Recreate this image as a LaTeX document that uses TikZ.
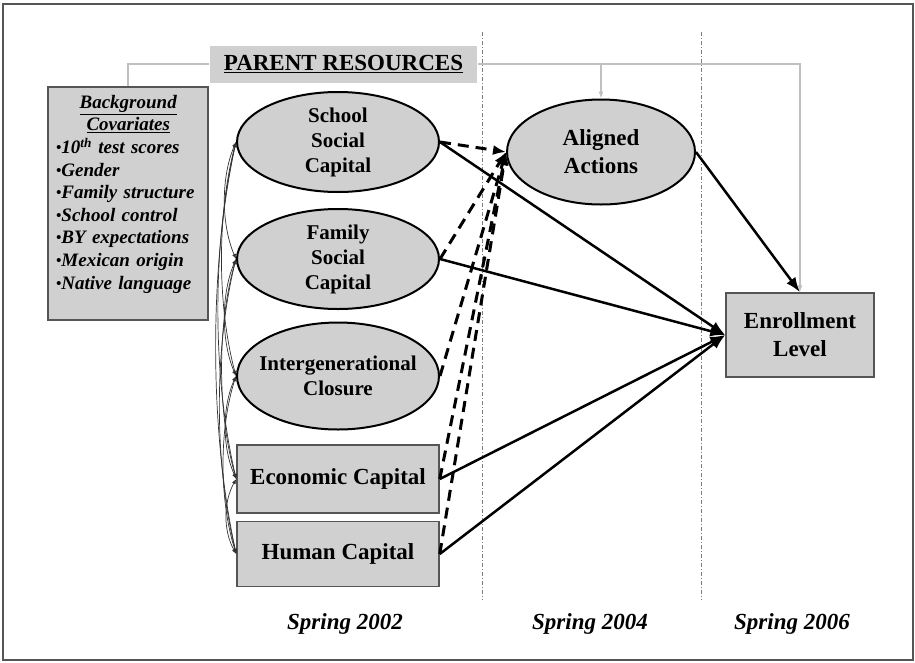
\documentclass[tikz,border=0pt]{standalone}
\usepackage{fontspec}
\setmainfont{Liberation Serif}
\usetikzlibrary{arrows.meta,shapes.geometric,positioning}
\definecolor{boxgray}{RGB}{208,208,208}
\definecolor{linegray}{RGB}{192,192,192}
\definecolor{framegray}{RGB}{85,85,85}
\definecolor{sepgray}{RGB}{125,125,125}
\newcommand\ovfont{\fontsize{21}{25}\selectfont\bfseries}
\newcommand\bxfont{\fontsize{23}{28}\selectfont\bfseries}
\newcommand\cvfont{\fontsize{19}{22.6}\selectfont\bfseries\itshape}
\newcommand\spfont{\fontsize{23}{27}\selectfont\bfseries\itshape}
\newcommand\cvbul{{\fontsize{15}{15}\selectfont\raisebox{1pt}{•}}}
\tikzset{
  pathto/.style={-{Latex[length=15pt,width=11pt]},line width=2.5pt},
  hypoth/.style={-{Latex[length=13pt,width=10pt]},line width=3pt,dash pattern=on 11pt off 7pt},
  covar/.style={{Latex[length=5pt,width=4pt]}-{Latex[length=5pt,width=4pt]},line width=.7pt,draw=black!80},
  parentline/.style={line width=1.2pt,draw=linegray},
  parenttip/.style={-{Latex[length=7pt,width=5pt]}},
  timesep/.style={line width=1pt,draw=sepgray,dash pattern=on 4pt off 2pt on 1pt off 2pt}
}

\begin{document}
\begin{tikzpicture}[x=1pt,y=-1pt]%
        \useasboundingbox (0,0) rectangle (915,662);
        \draw[framegray,line width=1.5pt] (3,4) rectangle (913,660); %%
        \draw[timesep] (482,32) -- (482,600); %%
        \draw[timesep] (701,32) -- (701,600); %%
        \begin{scope}[shape=ellipse,inner xsep=-10pt,inner ysep=0pt,minimum width=202,minimum height=100]
        \tikzstyle{every node}=[draw,line width=2pt,fill=boxgray,align=center,font=\ovfont] %%
        \node (ssc) at (338,142)  {School\\Social\\Capital}; %%
        \node (fsc) at (338,259)  {Family\\Social\\Capital}; %%
        \node[minimum height=107] (ic) at (338,376)  {Intergenerational\\Closure}; %%
        \node[minimum width=188,minimum height=105,font=\bxfont] (aa) at (601,152)  {Aligned\\Actions}; %%
        \end{scope}
        \begin{scope}[shape=rectangle,inner sep=0pt,minimum width=202,minimum height=68]
        \tikzstyle{every node}=[draw=framegray,line width=1.5pt,fill=boxgray,align=center,font=\bxfont] %%
        \node (ec) at (338,479)  {Economic Capital}; %%
        \node[minimum height=65] (hc) at (338,554)  {Human Capital}; %%
        \node[minimum width=148,minimum height=84] (el) at (800,335)  {Enrollment\\Level}; %%
        \node[minimum width=160,minimum height=233] (bgc) at (128,203.5)  {}; %%
        \node[draw=none,fill=boxgray,minimum width=267,minimum height=37] (pr) at (343.5,64)  {\underline{PARENT RESOURCES}}; %%
        \end{scope}
        \node[anchor=north west,inner sep=0pt,text width=150pt,align=left,font=\cvfont] (cvtext) at (56,95)
          {\makebox[144pt]{\underline{Background}}\\
           \makebox[144pt]{\underline{Covariates}}\\
           \cvbul10\textsuperscript{th} test scores\\
           \cvbul Gender\\
           \cvbul Family structure\\
           \cvbul School control\\
           \cvbul BY expectations\\
           \cvbul Mexican origin\\
           \cvbul Native language}; %%
        \node[font=\spfont] (sp02) at (345,624)  {Spring 2002}; %%
        \node[font=\spfont] (sp04) at (590,624)  {Spring 2004}; %%
        \node[font=\spfont] (sp06) at (792,624)  {Spring 2006}; %%
        % parent resources bracket
        \coordinate (prcorner) at (pr.east -| el.north);
        \draw[parentline] (bgc.north) |- (pr.west); %%
        \draw[parentline,parenttip] (pr.east) -- (prcorner) -- (el.north); %%
        \draw[parentline,parenttip] (aa.north |- pr.east) -- (aa.north); %%
        % correlations among parent resources
        \draw[covar] (ssc.west) .. controls +(-15,35) and +(-15,-35) .. (fsc.west); %%
        \draw[covar] (ssc.west) .. controls +(-19,71) and +(-19,-71) .. (ic.west); %%
        \draw[covar] (ssc.west) .. controls +(-24,102) and +(-24,-102) .. (ec.west); %%
        \draw[covar] (ssc.west) .. controls +(-27,124) and +(-27,-124) .. (hc.west); %%
        \draw[covar] (fsc.west) .. controls +(-15,35) and +(-15,-35) .. (ic.west); %%
        \draw[covar] (fsc.west) .. controls +(-19,66) and +(-19,-66) .. (ec.west); %%
        \draw[covar] (fsc.west) .. controls +(-22,89) and +(-22,-89) .. (hc.west); %%
        \draw[covar] (ic.west) .. controls +(-14,31) and +(-14,-31) .. (ec.west); %%
        \draw[covar] (ic.west) .. controls +(-17,53) and +(-17,-53) .. (hc.west); %%
        \draw[covar] (ec.west) .. controls +(-13,23) and +(-13,-23) .. (hc.west); %%
        % mediated paths
        \draw[hypoth] (ssc.east) -- (aa.west); %%
        \draw[hypoth] (fsc.east) -- (aa.west); %%
        \draw[hypoth] (ic.east) -- (aa.west); %%
        \draw[hypoth] (ec.east) -- (aa.west); %%
        \draw[hypoth] (hc.east) -- (aa.west); %%
        % direct paths
        \draw[pathto] (ssc.east) -- (el.west); %%
        \draw[pathto] (fsc.east) -- (el.west); %%
        \draw[pathto] (ec.east) -- (el.west); %%
        \draw[pathto] (hc.east) -- (el.west); %%
        \draw[pathto] (aa.east) -- (el.north); %%
        \end{tikzpicture}
\end{document}
